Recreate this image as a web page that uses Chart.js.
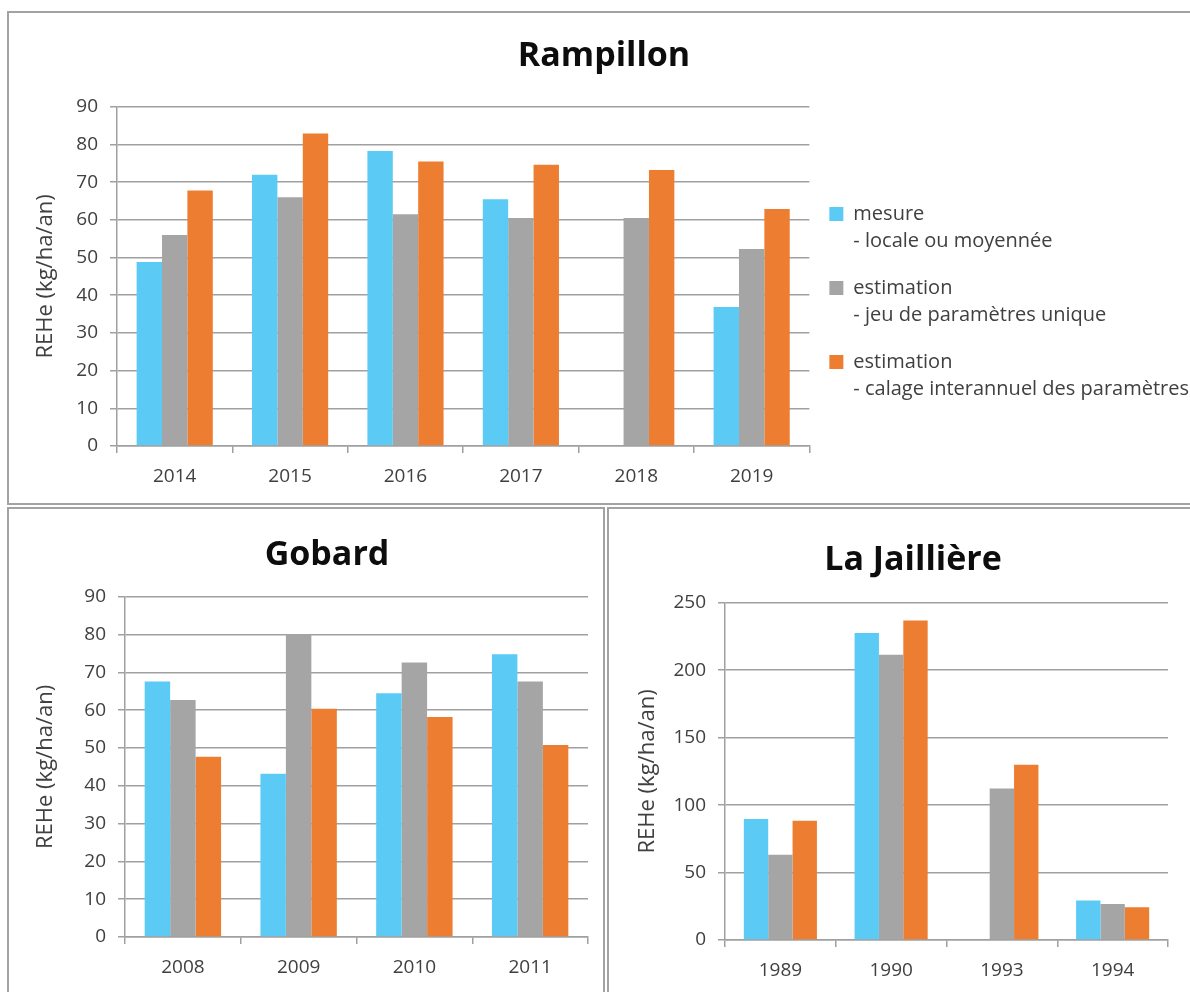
<!DOCTYPE html>
<html lang="fr">
<head>
<meta charset="utf-8">
<title>REHe - Rampillon, Gobard, La Jaillière</title>
<script src="https://cdn.jsdelivr.net/npm/chart.js@4/dist/chart.umd.min.js"></script>
<style>
    html, body { margin: 0; padding: 0; background: #fff; overflow: hidden; }
    body { width: 1190px; height: 992px; position: relative; }
    .box { position: absolute; border: 2px solid #a3a3a3; overflow: hidden; }
    .box canvas { position: absolute; left: 0; top: 0; }
    #boxRampillon { left: 7px; top: 11px; width: 1210px; height: 490px; }
    #boxGobard { left: 7px; top: 507px; width: 594px; height: 490px; }
    #boxJailliere { left: 607px; top: 507px; width: 600px; height: 490px; }
</style>
</head>
<body>
<div class="box" id="boxRampillon"><canvas id="chartRampillon" width="1190" height="490"></canvas></div>
<div class="box" id="boxGobard"><canvas id="chartGobard" width="594" height="483"></canvas></div>
<div class="box" id="boxJailliere"><canvas id="chartJailliere" width="581" height="483"></canvas></div>
<script>
// séries communes aux trois sites
const seriesNames = ["mesure", "estimation", "estimation"];
const seriesNotes = ["- locale ou moyennée", "- jeu de paramètres unique", "- calage interannuel des paramètres"];
const seriesColors = ["#5bcbf5", "#a5a5a5", "#ed7d31"];
const yTitle = "REHe (kg/ha/an)";

// Rampillon
const rampillonYears = ["2014", "2015", "2016", "2017", "2018", "2019"];
const rampillonMesure = [48.8, 72, 78.3, 65.5, null, 36.9];
const rampillonUnique = [56, 66, 61.5, 60.5, 60.5, 52.3];
const rampillonCalage = [67.8, 82.9, 75.5, 74.6, 73.2, 62.9];

// Gobard
const gobardYears = ["2008", "2009", "2010", "2011"];
const gobardMesure = [67.6, 43.2, 64.5, 74.8];
const gobardUnique = [62.7, 80.1, 72.6, 67.6];
const gobardCalage = [47.7, 60.4, 58.2, 50.8];

// La Jaillière
const jailliereYears = ["1989", "1990", "1993", "1994"];
const jailliereMesure = [89.7, 227.7, null, 29.2];
const jailliereUnique = [63.2, 211.5, 112.3, 26.7];
const jailliereCalage = [88.5, 236.8, 129.9, 24.3];

const FONT = "'Open Sans', 'DejaVu Sans', sans-serif";
const gridColor = "#a0a0a0";
const textColor = "#404040";

const makeDatasets = (values) => values.map((data, i) => ({
    label: seriesNames[i],
    data: data,
    backgroundColor: seriesColors[i],
    borderWidth: 0,
    categoryPercentage: 0.66,
    barPercentage: 1
}));

// sizes: [paddingLeft, paddingRight, yAxisWidth, xAxisHeight, titleTop, titleBottom, yTitleOffset]
const makeChart = (canvasId, title, labels, values, yMax, yStep, sizes, withLegend) => {
    const [padL, padR, yWidth, xHeight, titleTop, titleBottom, yTitlePad] = sizes;
    const config = {
        type: "bar",
        data: {
            labels: labels,
            datasets: makeDatasets(values)
        },
        options: {
            responsive: false,
            animation: false,
            layout: { padding: { left: padL, right: padR, top: 0, bottom: 0 } },
            plugins: {
                tooltip: { enabled: false },
                title: {
                    display: true,
                    text: title,
                    color: "#0d0d0d",
                    font: { family: FONT, size: 34, weight: "bold", lineHeight: 1.2 },
                    padding: { top: titleTop, bottom: titleBottom }
                },
                legend: {
                    display: withLegend,
                    position: "right",
                    maxWidth: 390,
                    // empty title only pushes the entries down
                    title: {
                        display: true,
                        text: " ",
                        font: { family: FONT, size: 10, lineHeight: 1 },
                        padding: { top: 84, bottom: 0 }
                    },
                    labels: {
                        color: textColor,
                        boxWidth: 14,
                        boxHeight: 14,
                        padding: 20,
                        font: { family: FONT, size: 20, lineHeight: 1.35 },
                        generateLabels: (chart) => chart.data.datasets.map((ds, i) => ({
                            text: [seriesNames[i], seriesNotes[i]],
                            fillStyle: ds.backgroundColor,
                            strokeStyle: ds.backgroundColor,
                            lineWidth: 0,
                            fontColor: textColor,
                            datasetIndex: i
                        }))
                    }
                }
            },
            scales: {
                x: {
                    grid: {
                        offset: true,
                        drawOnChartArea: false,
                        drawTicks: true,
                        tickLength: 7,
                        color: gridColor,
                        lineWidth: 1.5
                    },
                    border: { color: gridColor, width: 1.5 },
                    ticks: {
                        color: textColor,
                        padding: 12,
                        font: { family: FONT, size: 19 }
                    },
                    afterFit: (scale) => { scale.height = xHeight; }
                },
                y: {
                    min: 0,
                    max: yMax,
                    grid: {
                        color: gridColor,
                        lineWidth: 1.5,
                        tickLength: 7
                    },
                    border: { color: gridColor, width: 1.5 },
                    ticks: {
                        stepSize: yStep,
                        color: textColor,
                        padding: 12,
                        font: { family: FONT, size: 19 }
                    },
                    title: {
                        display: true,
                        text: yTitle,
                        color: textColor,
                        font: { family: FONT, size: 22 },
                        padding: { top: yTitlePad, bottom: 0 }
                    },
                    afterFit: (scale) => { scale.width = yWidth; }
                }
            }
        }
    };
    return new Chart(document.getElementById(canvasId), config);
};

makeChart("chartRampillon", "Rampillon", rampillonYears,
    [rampillonMesure, rampillonUnique, rampillonCalage], 90, 10,
    [0, 0, 108, 57, 23, 30, 24], true);

makeChart("chartGobard", "Gobard", gobardYears,
    [gobardMesure, gobardUnique, gobardCalage], 90, 10,
    [57, 15, 59, 55, 26, 21, -33], false);

makeChart("chartJailliere", "La Jaillière", jailliereYears,
    [jailliereMesure, jailliereUnique, jailliereCalage], 250, 50,
    [49, 22, 67, 52, 31, 22, -23], false);
</script>
</body>
</html>
